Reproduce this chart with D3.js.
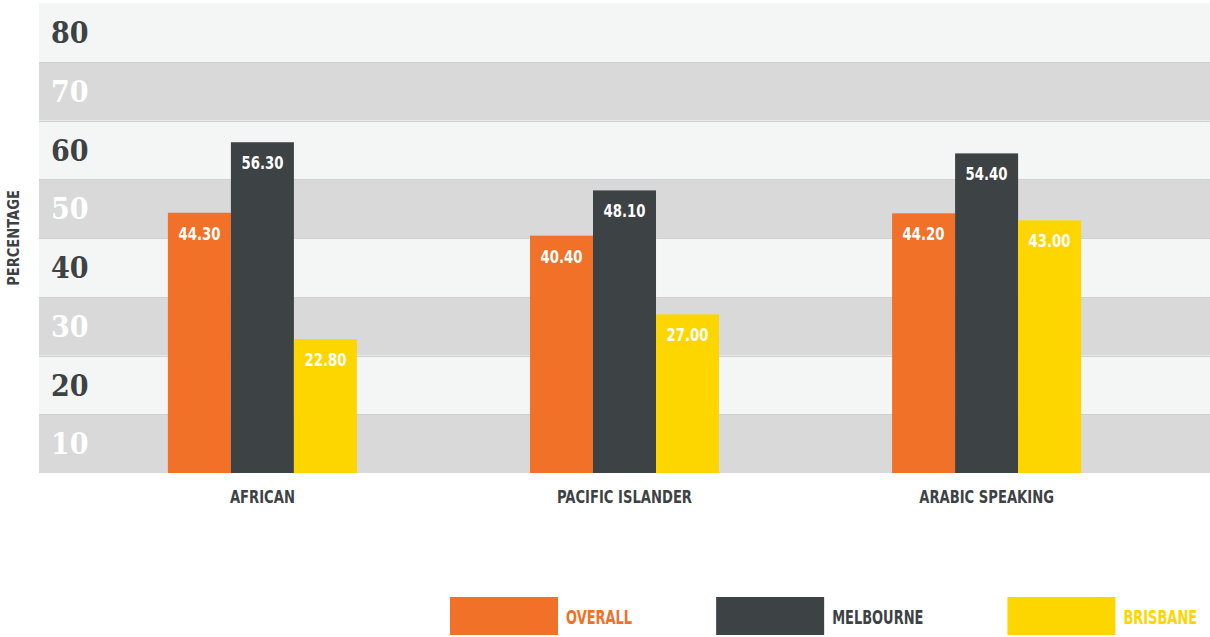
<!DOCTYPE html>
<html>
<head>
<meta charset="utf-8">
<script src="https://cdn.jsdelivr.net/npm/d3@7/dist/d3.min.js"></script>
<style>
  html, body { margin: 0; padding: 0; background: #ffffff; }
  svg { display: block; }
  .cond { font-family: "DejaVu Sans Condensed", "DejaVu Sans", sans-serif; font-stretch: condensed; font-weight: bold; }
  .tick { font-family: "DejaVu Serif Condensed", "DejaVu Serif", serif; font-stretch: condensed; font-weight: bold; }
</style>
</head>
<body>
<svg id="chart" width="1210" height="637"></svg>
<script>
const categories = ["AFRICAN", "PACIFIC ISLANDER", "ARABIC SPEAKING"];
const seriesNames = ["OVERALL", "MELBOURNE", "BRISBANE"];
const overall   = [44.30, 40.40, 44.20];
const melbourne = [56.30, 48.10, 54.40];
const brisbane  = [22.80, 27.00, 43.00];
const yTicks = [10, 20, 30, 40, 50, 60, 70, 80];
const yAxisTitle = "PERCENTAGE";

const seriesValues = [overall, melbourne, brisbane];
const colors = ["#f07127", "#3d4245", "#fdd600"];
const bandLight = "#f4f6f5", bandDark = "#d8d9d8";

const svg = d3.select("#chart");
const plotLeft = 39, plotRight = 1210, plotTop = 3, plotBottom = 473;

const y = d3.scaleLinear().domain([0, 80]).range([plotBottom, plotTop]);
const x0 = d3.scaleBand().domain(categories).range([81, 1168]).paddingInner(0.478).paddingOuter(0.24);
const x1 = d3.scaleBand().domain(seriesNames).range([0, x0.bandwidth()]);
const color = d3.scaleOrdinal().domain(seriesNames).range(colors);

// background bands
svg.append("g").selectAll("rect").data(yTicks).join("rect")
  .attr("x", plotLeft)
  .attr("width", plotRight - plotLeft)
  .attr("y", d => y(d))
  .attr("height", d => y(d - 10) - y(d))
  .attr("fill", d => (d / 10) % 2 === 0 ? bandLight : bandDark);

// faint grid lines
svg.append("g").selectAll("line").data(yTicks.filter(d => d < 80)).join("line")
  .attr("x1", plotLeft).attr("x2", plotRight)
  .attr("y1", d => Math.round(y(d)) + 0.5).attr("y2", d => Math.round(y(d)) + 0.5)
  .attr("stroke", "#cfd1d0").attr("stroke-width", 1);

// tick labels
svg.append("g").selectAll("text").data(yTicks).join("text")
  .attr("class", "tick")
  .attr("x", 51)
  .attr("y", d => (y(d) + y(d - 10)) / 2)
  .attr("dy", "0.36em")
  .attr("font-size", 30)
  .attr("fill", d => (d / 10) % 2 === 0 ? "#3d4245" : "#ffffff")
  .text(d => d);

// bars
const rows = categories.map((c, i) => ({ cat: c, vals: seriesNames.map((s, j) => ({ s, v: seriesValues[j][i] })) }));
const groups = svg.append("g").selectAll("g").data(rows).join("g")
  .attr("transform", d => `translate(${x0(d.cat)},0)`);

groups.selectAll("rect").data(d => d.vals).join("rect")
  .attr("x", d => x1(d.s))
  .attr("width", x1.bandwidth())
  .attr("y", d => y(d.v))
  .attr("height", d => y(0) - y(d.v))
  .attr("fill", d => color(d.s));

groups.selectAll("text").data(d => d.vals).join("text")
  .attr("class", "cond")
  .attr("transform", d => `translate(${x1(d.s) + x1.bandwidth() / 2},${y(d.v) + 27}) scale(0.82,1)`)
  .attr("text-anchor", "middle")
  .attr("font-size", 18)
  .attr("fill", "#ffffff")
  .text(d => d.v.toFixed(2));

// category labels
svg.append("g").selectAll("text").data(categories).join("text")
  .attr("class", "cond")
  .attr("transform", d => `translate(${x0(d) + x0.bandwidth() / 2},503) scale(0.86,1)`)
  .attr("text-anchor", "middle")
  .attr("font-size", 17)
  .attr("fill", "#3d4245")
  .text(d => d);

// y axis title
svg.append("text")
  .attr("class", "cond")
  .attr("transform", `translate(19,${(plotTop + plotBottom) / 2}) rotate(-90) scale(0.91,1)`)
  .attr("text-anchor", "middle")
  .attr("font-size", 16)
  .attr("fill", "#3d4245")
  .text(yAxisTitle);

// legend
const legend = svg.append("g");
const legendScale = 0.76;
let lx = 450;
seriesNames.forEach((s, i) => {
  legend.append("rect").attr("x", lx).attr("y", 597).attr("width", 108).attr("height", 38).attr("fill", colors[i]);
  const t = legend.append("text").attr("class", "cond")
    .attr("transform", `translate(${lx + 116},624) scale(${legendScale},1)`)
    .attr("font-size", 19)
    .attr("fill", colors[i])
    .text(s);
  lx = lx + 116 + t.node().getComputedTextLength() * legendScale + 84;
});
</script>
</body>
</html>
